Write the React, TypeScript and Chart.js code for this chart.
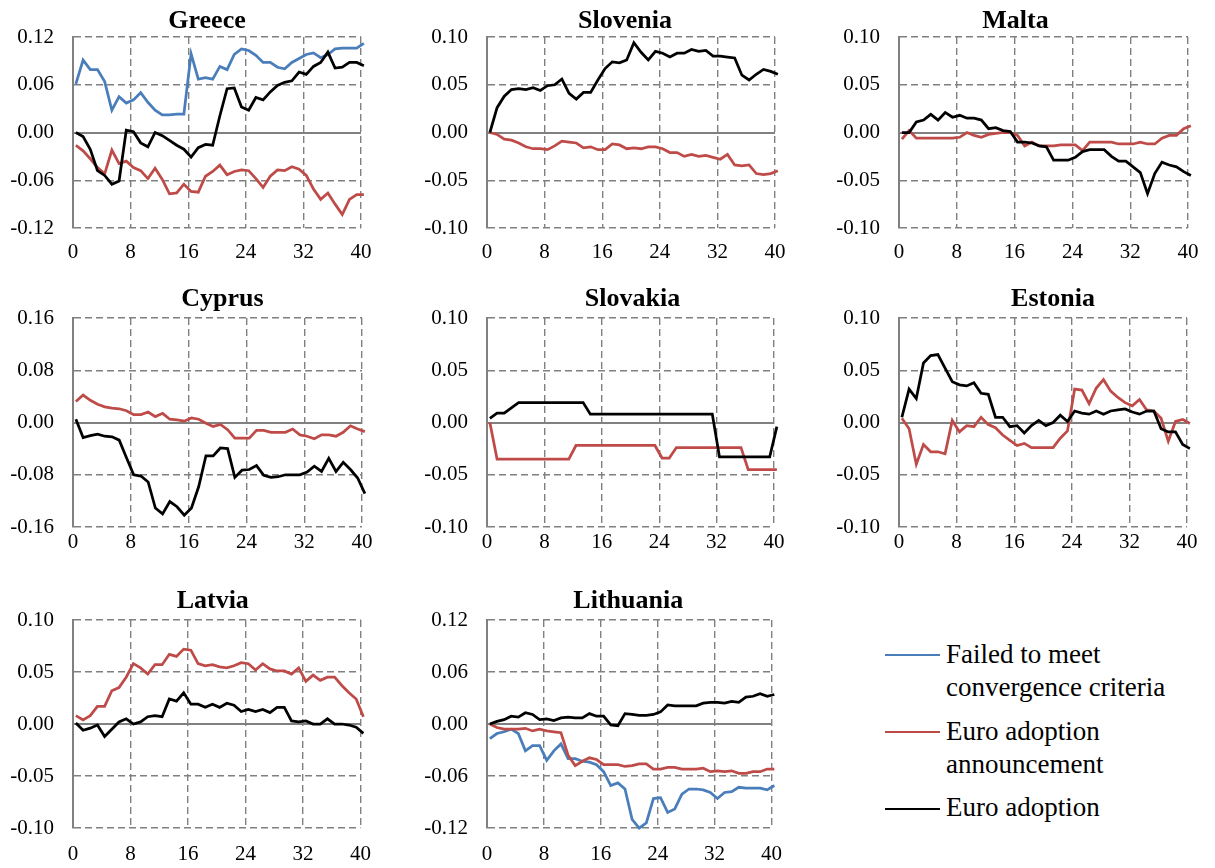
import React, { useEffect, useRef } from "react";
import { Chart, registerables } from "chart.js";

Chart.register(...registerables);

// ---------- data ----------
const HORIZON = [0, 1, 2, 3, 4, 5, 6, 7, 8, 9, 10, 11, 12, 13, 14, 15, 16, 17, 18, 19, 20, 21, 22, 23, 24, 25, 26, 27, 28, 29, 30, 31, 32, 33, 34, 35, 36, 37, 38, 39, 40];
const X_TICKS = [0, 8, 16, 24, 32, 40];
const Y_TICKS_10 = [-0.1, -0.05, 0, 0.05, 0.1];
const Y_TICKS_12 = [-0.12, -0.06, 0, 0.06, 0.12];
const Y_TICKS_16 = [-0.16, -0.08, 0, 0.08, 0.16];

const SERIES_NAMES = ["Failed to meet convergence criteria", "Euro adoption announcement", "Euro adoption"];

const greeceFailed = [0.061, 0.091, 0.079, 0.079, 0.064, 0.028, 0.045, 0.037, 0.041, 0.050, 0.038, 0.028, 0.022, 0.022, 0.023, 0.023, 0.099, 0.067, 0.069, 0.067, 0.083, 0.079, 0.098, 0.105, 0.103, 0.097, 0.088, 0.088, 0.082, 0.080, 0.088, 0.093, 0.098, 0.100, 0.094, 0.098, 0.105, 0.106, 0.106, 0.106, 0.112];
const greeceAnnounce = [-0.016, -0.023, -0.033, -0.044, -0.052, -0.022, -0.039, -0.036, -0.044, -0.048, -0.058, -0.045, -0.059, -0.077, -0.076, -0.065, -0.074, -0.075, -0.055, -0.049, -0.041, -0.053, -0.049, -0.047, -0.048, -0.058, -0.069, -0.055, -0.047, -0.048, -0.043, -0.046, -0.054, -0.071, -0.084, -0.076, -0.090, -0.103, -0.084, -0.078, -0.078];
const greeceAdopt = [0.000, -0.005, -0.021, -0.048, -0.054, -0.065, -0.061, 0.003, 0.001, -0.013, -0.018, 0.000, -0.004, -0.010, -0.016, -0.021, -0.031, -0.019, -0.015, -0.016, 0.021, 0.055, 0.056, 0.032, 0.028, 0.044, 0.041, 0.051, 0.059, 0.063, 0.065, 0.076, 0.073, 0.083, 0.088, 0.101, 0.081, 0.082, 0.088, 0.088, 0.084];

const sloveniaAnnounce = [0, -0.002, -0.007, -0.008, -0.011, -0.015, -0.017, -0.017, -0.018, -0.014, -0.009, -0.010, -0.011, -0.016, -0.015, -0.018, -0.018, -0.012, -0.013, -0.017, -0.016, -0.017, -0.015, -0.015, -0.017, -0.021, -0.021, -0.025, -0.023, -0.025, -0.024, -0.026, -0.028, -0.023, -0.034, -0.035, -0.034, -0.043, -0.044, -0.043, -0.040];
const sloveniaAdopt = [0, 0.026, 0.038, 0.045, 0.046, 0.045, 0.047, 0.044, 0.049, 0.050, 0.056, 0.041, 0.035, 0.042, 0.042, 0.055, 0.067, 0.074, 0.073, 0.076, 0.094, 0.084, 0.076, 0.085, 0.083, 0.079, 0.083, 0.083, 0.087, 0.085, 0.086, 0.080, 0.080, 0.079, 0.078, 0.060, 0.055, 0.061, 0.066, 0.064, 0.061];

const maltaAnnounce = [-0.007, 0.002, -0.006, -0.006, -0.006, -0.006, -0.006, -0.006, -0.005, 0.000, -0.003, -0.005, -0.002, -0.001, 0.000, 0.000, -0.003, -0.014, -0.010, -0.014, -0.014, -0.014, -0.013, -0.013, -0.013, -0.019, -0.010, -0.010, -0.010, -0.010, -0.012, -0.012, -0.012, -0.010, -0.012, -0.012, -0.006, -0.003, -0.003, 0.004, 0.007];
const maltaAdopt = [0, 0, 0.011, 0.013, 0.019, 0.013, 0.021, 0.016, 0.018, 0.015, 0.015, 0.013, 0.004, 0.005, 0.002, 0.001, -0.010, -0.010, -0.011, -0.014, -0.015, -0.029, -0.029, -0.029, -0.026, -0.020, -0.018, -0.018, -0.018, -0.025, -0.030, -0.030, -0.036, -0.042, -0.064, -0.043, -0.031, -0.034, -0.036, -0.041, -0.045];

const cyprusAnnounce = [0.032, 0.042, 0.034, 0.028, 0.024, 0.022, 0.021, 0.018, 0.012, 0.012, 0.016, 0.009, 0.014, 0.005, 0.004, 0.002, 0.007, 0.005, -0.001, -0.006, -0.003, -0.011, -0.024, -0.024, -0.024, -0.012, -0.012, -0.015, -0.015, -0.015, -0.010, -0.019, -0.021, -0.025, -0.019, -0.019, -0.021, -0.015, -0.005, -0.010, -0.014];
const cyprusAdopt = [0.005, -0.023, -0.020, -0.018, -0.021, -0.022, -0.027, -0.054, -0.080, -0.082, -0.091, -0.131, -0.140, -0.121, -0.129, -0.142, -0.131, -0.098, -0.051, -0.051, -0.039, -0.040, -0.084, -0.073, -0.072, -0.066, -0.081, -0.084, -0.083, -0.080, -0.080, -0.080, -0.076, -0.067, -0.075, -0.055, -0.075, -0.061, -0.072, -0.085, -0.109];

const slovakiaAnnounce = [0, -0.035, -0.035, -0.035, -0.035, -0.035, -0.035, -0.035, -0.035, -0.035, -0.035, -0.035, -0.022, -0.022, -0.022, -0.022, -0.022, -0.022, -0.022, -0.022, -0.022, -0.022, -0.022, -0.022, -0.034, -0.034, -0.024, -0.024, -0.024, -0.024, -0.024, -0.024, -0.024, -0.024, -0.024, -0.024, -0.045, -0.045, -0.045, -0.045, -0.045];
const slovakiaAdopt = [0.004, 0.009, 0.009, 0.014, 0.019, 0.019, 0.019, 0.019, 0.019, 0.019, 0.019, 0.019, 0.019, 0.019, 0.008, 0.008, 0.008, 0.008, 0.008, 0.008, 0.008, 0.008, 0.008, 0.008, 0.008, 0.008, 0.008, 0.008, 0.008, 0.008, 0.008, 0.008, -0.033, -0.033, -0.033, -0.033, -0.033, -0.033, -0.033, -0.033, -0.004];

const estoniaAnnounce = [0.004, -0.006, -0.040, -0.021, -0.028, -0.028, -0.030, 0.002, -0.009, -0.003, -0.004, 0.005, -0.002, -0.005, -0.012, -0.017, -0.022, -0.020, -0.024, -0.024, -0.024, -0.024, -0.015, -0.008, 0.032, 0.031, 0.018, 0.033, 0.041, 0.030, 0.024, 0.019, 0.016, 0.022, 0.012, 0.011, 0.004, -0.018, 0.001, 0.003, -0.001];
const estoniaAdopt = [0.005, 0.032, 0.023, 0.057, 0.064, 0.065, 0.052, 0.039, 0.036, 0.035, 0.038, 0.028, 0.027, 0.005, 0.005, -0.004, -0.003, -0.010, -0.003, 0.002, -0.003, 0.000, 0.007, 0.001, 0.011, 0.009, 0.008, 0.011, 0.008, 0.011, 0.012, 0.013, 0.010, 0.008, 0.011, 0.011, -0.006, -0.009, -0.009, -0.021, -0.025];

const latviaAnnounce = [0.008, 0.004, 0.008, 0.017, 0.017, 0.032, 0.035, 0.045, 0.058, 0.054, 0.048, 0.057, 0.057, 0.067, 0.065, 0.072, 0.071, 0.058, 0.056, 0.057, 0.055, 0.054, 0.056, 0.059, 0.058, 0.052, 0.058, 0.053, 0.051, 0.051, 0.048, 0.054, 0.041, 0.047, 0.042, 0.045, 0.045, 0.037, 0.030, 0.024, 0.007];
const latviaAdopt = [0.001, -0.006, -0.004, -0.001, -0.012, -0.005, 0.002, 0.005, 0.000, 0.002, 0.007, 0.008, 0.007, 0.024, 0.022, 0.030, 0.019, 0.019, 0.016, 0.019, 0.016, 0.020, 0.018, 0.012, 0.014, 0.012, 0.014, 0.011, 0.016, 0.016, 0.003, 0.002, 0.003, 0.000, 0.000, 0.005, 0.000, 0.000, -0.001, -0.003, -0.009];

const lithuaniaFailed = [-0.017, -0.011, -0.009, -0.006, -0.011, -0.031, -0.025, -0.025, -0.042, -0.031, -0.023, -0.040, -0.040, -0.043, -0.044, -0.047, -0.055, -0.071, -0.068, -0.075, -0.110, -0.120, -0.114, -0.086, -0.085, -0.102, -0.098, -0.081, -0.075, -0.075, -0.076, -0.079, -0.086, -0.079, -0.078, -0.073, -0.074, -0.074, -0.074, -0.076, -0.071];
const lithuaniaAnnounce = [0, -0.004, -0.006, -0.006, -0.006, -0.005, -0.008, -0.006, -0.008, -0.009, -0.010, -0.036, -0.048, -0.043, -0.039, -0.041, -0.047, -0.047, -0.047, -0.049, -0.048, -0.046, -0.046, -0.052, -0.052, -0.050, -0.050, -0.052, -0.052, -0.052, -0.051, -0.055, -0.054, -0.055, -0.054, -0.057, -0.057, -0.055, -0.055, -0.052, -0.052];
const lithuaniaAdopt = [0, 0.003, 0.005, 0.009, 0.008, 0.013, 0.011, 0.005, 0.006, 0.004, 0.007, 0.008, 0.007, 0.007, 0.012, 0.009, 0.009, -0.001, -0.002, 0.012, 0.011, 0.010, 0.010, 0.011, 0.014, 0.022, 0.021, 0.021, 0.021, 0.021, 0.024, 0.025, 0.025, 0.024, 0.026, 0.025, 0.031, 0.032, 0.035, 0.032, 0.034];

// ---------- styles / layout ----------
const SERIES_COLORS = ["#4a7ebb", "#be4b48", "#000000"];
const GRID = "#808080";
const FONT_FAMILY = "Liberation Serif";
const FONT = "'Liberation Serif', serif";
const X_SHIFT = 0.4;
const YW = 72; // y-axis box width
const XH = 40; // x-axis box height
const TP = 37; // room above plot
const RP = 24; // right padding

type PanelDef = {
  title: string;
  yTicks: number[];
  failed?: number[];
  announce: number[];
  adopt: number[];
  left: number;
  right: number;
  top: number;
  bottom: number;
  titleDx: number;
  titleDy: number;
  labelPad: number;
};

const PANELS: PanelDef[] = [
  { title: "Greece", yTicks: Y_TICKS_12, failed: greeceFailed, announce: greeceAnnounce, adopt: greeceAdopt, left: 73, right: 361, top: 37, bottom: 228, titleDx: -10, titleDy: -9, labelPad: 12 },
  { title: "Slovenia", yTicks: Y_TICKS_10, announce: sloveniaAnnounce, adopt: sloveniaAdopt, left: 487, right: 775, top: 37, bottom: 228, titleDx: -6, titleDy: -9, labelPad: 12 },
  { title: "Malta", yTicks: Y_TICKS_10, announce: maltaAnnounce, adopt: maltaAdopt, left: 899, right: 1188, top: 37, bottom: 228, titleDx: -28, titleDy: -9, labelPad: 12 },
  { title: "Cyprus", yTicks: Y_TICKS_16, announce: cyprusAnnounce, adopt: cyprusAdopt, left: 73, right: 362, top: 318, bottom: 527, titleDx: 5, titleDy: -12.5, labelPad: 3 },
  { title: "Slovakia", yTicks: Y_TICKS_10, announce: slovakiaAnnounce, adopt: slovakiaAdopt, left: 487, right: 774, top: 318, bottom: 527, titleDx: 2, titleDy: -12, labelPad: 3 },
  { title: "Estonia", yTicks: Y_TICKS_10, announce: estoniaAnnounce, adopt: estoniaAdopt, left: 899, right: 1187, top: 318, bottom: 527, titleDx: 10, titleDy: -12, labelPad: 3 },
  { title: "Latvia", yTicks: Y_TICKS_10, announce: latviaAnnounce, adopt: latviaAdopt, left: 73, right: 361, top: 620, bottom: 828, titleDx: -4, titleDy: -12.5, labelPad: 14 },
  { title: "Lithuania", yTicks: Y_TICKS_12, failed: lithuaniaFailed, announce: lithuaniaAnnounce, adopt: lithuaniaAdopt, left: 487, right: 772, top: 620, bottom: 828, titleDx: -1, titleDy: -12.5, labelPad: 14 },
];

const panelTitlePlugin = {
  id: "panelTitle",
  afterDraw(chart: any, _args: any, opts: any) {
    const { ctx, chartArea } = chart;
    ctx.save();
    ctx.font = `bold 26px ${FONT}`;
    ctx.fillStyle = "#000";
    ctx.textAlign = "center";
    ctx.textBaseline = "alphabetic";
    ctx.fillText(opts.text, (chartArea.left + chartArea.right) / 2 + opts.dx, chartArea.top + opts.dy);
    ctx.restore();
  },
};

function makeDataset(idx: number, values: number[]) {
  return {
    label: SERIES_NAMES[idx],
    data: values.map((v, i) => ({ x: HORIZON[i] + X_SHIFT, y: v })),
    borderColor: SERIES_COLORS[idx],
    backgroundColor: SERIES_COLORS[idx],
    borderWidth: 2.75,
    pointRadius: 0,
    tension: 0,
    fill: false,
    clip: false as any,
    order: 2 - idx,
  };
}

function PanelChart({ p, ready }: { p: PanelDef; ready: boolean }) {
  const ref = useRef<HTMLCanvasElement>(null);
  const width = YW + (p.right - p.left) + RP;
  const height = TP + (p.bottom - p.top) + XH;
  const cLeft = p.left - YW;
  const cTop = p.top - TP;

  useEffect(() => {
    const canvas = ref.current;
    if (!canvas || !ready) return;
    const datasets: any[] = [];
    if (p.failed) datasets.push(makeDataset(0, p.failed));
    datasets.push(makeDataset(1, p.announce));
    datasets.push(makeDataset(2, p.adopt));
    const yMin = p.yTicks[0];
    const yMax = p.yTicks[p.yTicks.length - 1];
    const tickFont = { family: FONT, size: 21 };
    const chart = new Chart(canvas, {
      type: "line",
      data: { datasets },
      options: {
        animation: false,
        responsive: false,
        devicePixelRatio: 1,
        layout: { padding: { top: TP, right: RP, left: 0, bottom: 0 } },
        plugins: {
          legend: { display: false },
          tooltip: { enabled: false },
          title: { display: false },
          panelTitle: { text: p.title, dx: p.titleDx, dy: p.titleDy },
        } as any,
        scales: {
          x: {
            type: "linear",
            min: X_TICKS[0],
            max: X_TICKS[X_TICKS.length - 1],
            afterBuildTicks: (s: any) => {
              s.ticks = X_TICKS.map((v) => ({ value: v }));
            },
            afterFit: (s: any) => {
              s.height = XH;
            },
            ticks: {
              padding: p.labelPad,
              color: "#000",
              font: tickFont,
              maxRotation: 0,
              autoSkip: false,
              callback: (v: any) => String(v),
            },
            grid: { color: GRID, lineWidth: 1.4, drawTicks: false },
            border: { display: false, dash: [7, 4] },
          },
          y: {
            type: "linear",
            min: yMin,
            max: yMax,
            afterBuildTicks: (s: any) => {
              s.ticks = p.yTicks.map((v) => ({ value: v }));
            },
            afterFit: (s: any) => {
              s.width = YW;
            },
            ticks: {
              padding: 19,
              color: "#000",
              font: tickFont,
              autoSkip: false,
              callback: (v: any) => {
                const n = Number(v);
                return (Math.abs(n) < 1e-9 ? 0 : n).toFixed(2);
              },
            },
            grid: {
              color: GRID,
              lineWidth: (c: any) => (c.tick && Math.abs(c.tick.value) < 1e-9 ? 2 : 1.4),
              drawTicks: false,
            },
            border: {
              display: true,
              color: GRID,
              width: 2,
              dash: (c: any) => (c.tick && Math.abs(c.tick.value) < 1e-9 ? [] : [7, 4]),
            },
          },
        },
      } as any,
      plugins: [panelTitlePlugin],
    });
    return () => chart.destroy();
  }, [ready]);

  return (
    <canvas
      ref={ref}
      width={width}
      height={height}
      style={{ position: "absolute", left: cLeft, top: cTop, width, height }}
    />
  );
}

const LEGEND_LAYOUT = [
  { lineY: 655, textTop: 637.5 },
  { lineY: 732, textTop: 715 },
  { lineY: 809, textTop: 791 },
];

function Legend() {
  return (
    <>
      {SERIES_NAMES.map((name, i) => (
        <React.Fragment key={name}>
          <div
            style={{
              position: "absolute",
              left: 885,
              top: LEGEND_LAYOUT[i].lineY - 1.25,
              width: 55,
              height: 2.5,
              background: SERIES_COLORS[i],
            }}
          />
          <div
            style={{
              position: "absolute",
              left: 946,
              top: LEGEND_LAYOUT[i].textTop,
              width: 250,
              fontFamily: FONT,
              fontSize: 27,
              lineHeight: "33.4px",
              color: "#000",
            }}
          >
            {name}
          </div>
        </React.Fragment>
      ))}
    </>
  );
}

export default function App() {
  const [ready, setReady] = React.useState(false);
  useEffect(() => {
    let done = false;
    const finish = () => {
      if (!done) {
        done = true;
        setReady(true);
      }
    };
    const fonts: any = (document as any).fonts;
    if (fonts && fonts.load) {
      Promise.all([
        fonts.load(`21px '${FONT_FAMILY}'`),
        fonts.load(`bold 26px '${FONT_FAMILY}'`),
      ]).then(finish, finish);
      setTimeout(finish, 400);
    } else {
      finish();
    }
  }, []);
  return (
    <div
      style={{
        position: "absolute",
        left: 0,
        top: 0,
        width: 1215,
        height: 868,
        overflow: "hidden",
        background: "#ffffff",
        fontFamily: FONT,
      }}
    >
      {PANELS.map((p) => (
        <PanelChart key={p.title} p={p} ready={ready} />
      ))}
      <Legend />
    </div>
  );
}
